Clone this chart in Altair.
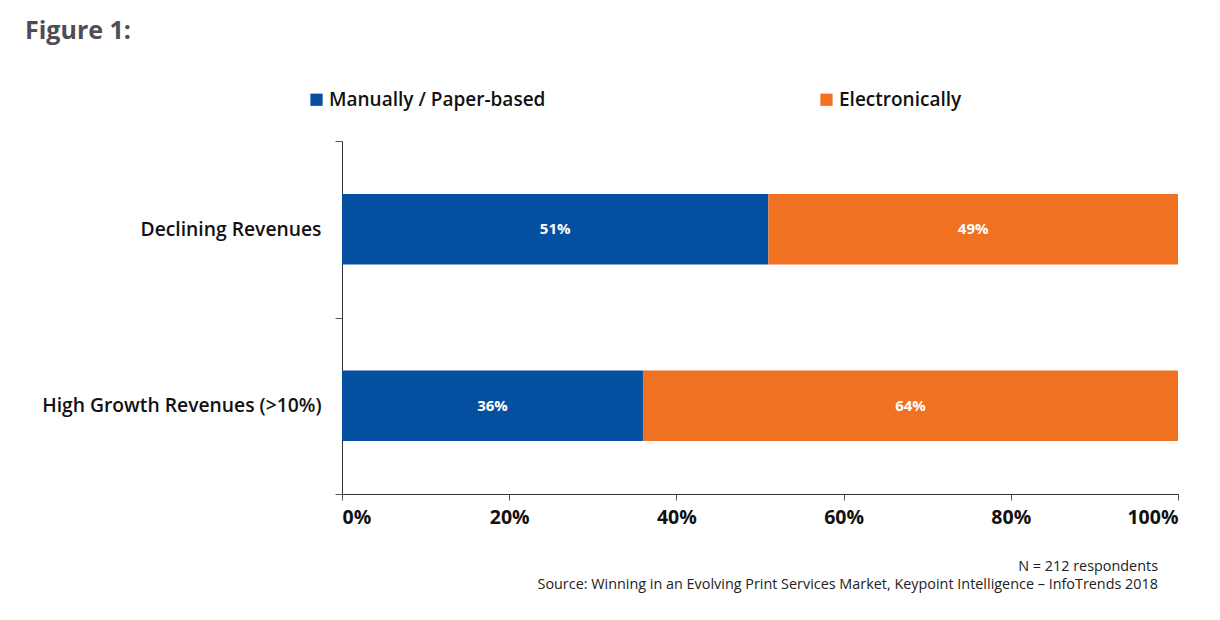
import altair as alt
import pandas as pd

categories = ["Declining Revenues", "High Growth Revenues (>10%)"]
series = ["Manually / Paper-based", "Electronically"]
manual = [51, 36]
electronic = [49, 64]
colors = ["#054FA0", "#F07122"]
x_ticks = [0, 20, 40, 60, 80, 100]
title_text = "Figure 1:"
footnotes = ["N = 212 respondents",
             "Source: Winning in an Evolving Print Services Market, Keypoint Intelligence \u2013 InfoTrends 2018"]

rows = []
for i, c in enumerate(categories):
    rows.append({"cat": c, "series": series[0], "value": manual[i], "ord": 0})
    rows.append({"cat": c, "series": series[1], "value": electronic[i], "ord": 1})
df = pd.DataFrame(rows)

FONT = "Open Sans"

base = alt.Chart(df).transform_stack(
    stack="value", groupby=["cat"], as_=["x0", "x1"], sort=[alt.SortField("ord")]
).transform_calculate(mid="(datum.x0 + datum.x1) / 2", lbl="datum.value + '%'")

y_enc = alt.Y("cat:N", sort=categories,
              scale=alt.Scale(paddingInner=0, paddingOuter=0),
              axis=alt.Axis(title=None, tickBand="extent", tickSize=7, labelPadding=14,
                            labelFont=FONT, labelFontSize=19.3, labelFontWeight=600,
                            labelColor="#111111", domainColor="#333333", tickColor="#555555",
                            labelLimit=400))

bars = base.mark_bar(height={"band": 0.4}).encode(
    x=alt.X("x0:Q", scale=alt.Scale(domain=[0, 100], nice=False),
            axis=alt.Axis(title=None, values=x_ticks, labelExpr="datum.value + '%'",
                          grid=False, tickSize=6, labelPadding=8, labelFont=FONT,
                          labelFontSize=19.5, labelFontWeight="bold", labelColor="#111111",
                          domainColor="#333333", tickColor="#555555")),
    x2="x1:Q",
    y=y_enc,
    color=alt.Color("series:N", scale=alt.Scale(domain=series, range=colors),
                    legend=alt.Legend(title=None, orient="none", direction="horizontal",
                                      legendX=-35, legendY=-51, columns=2, columnPadding=271,
                                      symbolType="square", symbolSize=150, symbolStrokeWidth=0,
                                      symbolOpacity=1, labelFont=FONT, labelFontSize=19,
                                      labelFontWeight=600, labelColor="#111111",
                                      labelOffset=3, labelLimit=400)),
)

labels = base.mark_text(color="white", font=FONT, fontSize=15, fontWeight="bold").encode(
    x=alt.X("mid:Q"),
    y=alt.Y("cat:N", sort=categories),
    text="lbl:N",
)

title = alt.Chart(pd.DataFrame({"t": [title_text]})).mark_text(
    align="left", baseline="middle", font=FONT, fontSize=25, fontWeight="bold", color="#4D4D55"
).encode(x=alt.value(-317), y=alt.value(-110), text="t:N")

note1 = alt.Chart(pd.DataFrame({"t": [footnotes[0]]})).mark_text(
    align="right", baseline="middle", font=FONT, fontSize=14.4, color="#222222"
).encode(x=alt.value(816), y=alt.value(426), text="t:N")
note2 = alt.Chart(pd.DataFrame({"t": [footnotes[1]]})).mark_text(
    align="right", baseline="middle", font=FONT, fontSize=14.4, color="#222222"
).encode(x=alt.value(816), y=alt.value(444), text="t:N")

chart = alt.layer(bars, labels, title, note1, note2).properties(
    width=836, height=353,
    autosize=alt.AutoSizeParams(type="none"),
    padding={"left": 334, "top": 133, "right": 30, "bottom": 100},
    background="white",
).configure_view(strokeWidth=0)

chart.save("out.html", embed_options={"renderer": "svg", "actions": False})
